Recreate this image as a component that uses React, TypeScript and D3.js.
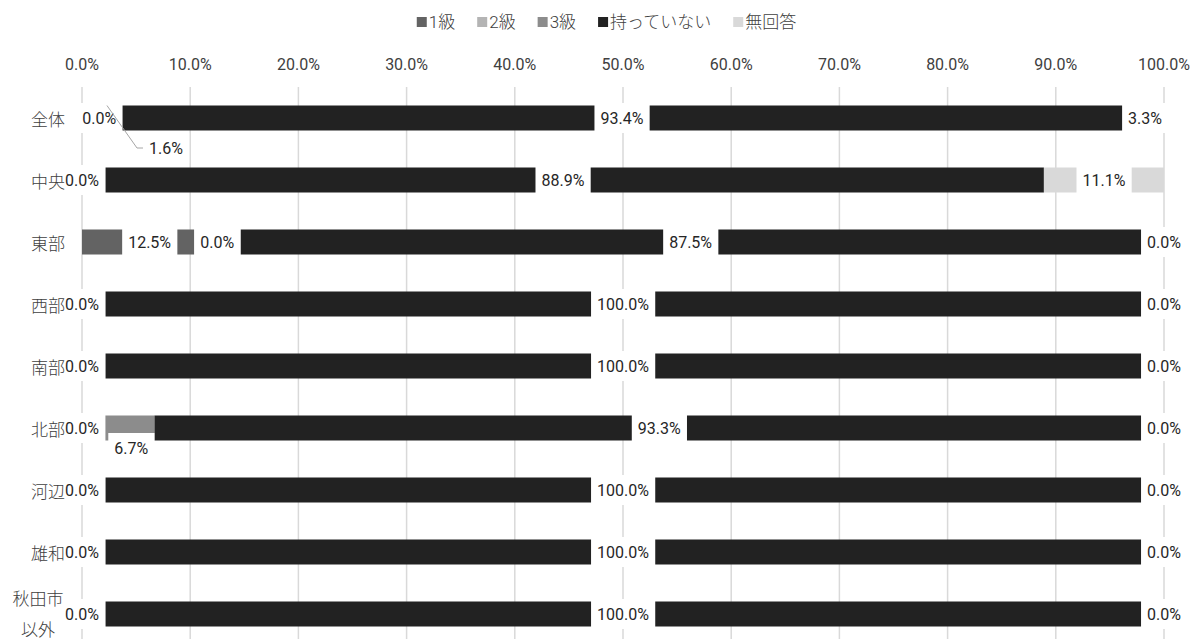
import React, { useEffect, useRef } from 'react';
import * as d3 from 'd3';

const categories = ['全体', '中央', '東部', '西部', '南部', '北部', '河辺', '雄和', '秋田市以外'];
const seriesNames = ['1級', '2級', '3級', '持っていない', '無回答'];
const grade1 = [1.6, 0, 12.5, 0, 0, 0, 0, 0, 0];
const grade2 = [0, 0, 0, 0, 0, 0, 0, 0, 0];
const grade3 = [1.6, 0, 0, 0, 0, 6.7, 0, 0, 0];
const notHeld = [93.4, 88.9, 87.5, 100, 100, 93.3, 100, 100, 100];
const noAnswer = [3.3, 11.1, 0, 0, 0, 0, 0, 0, 0];
const tickValues = [0, 10, 20, 30, 40, 50, 60, 70, 80, 90, 100];
const colors = ['#636363', '#b4b4b4', '#8c8c8c', '#222222', '#d9d9d9'];

// label placement overrides (layout, not data)
const labelMoves = [
  { row: '全体', series: 0, dx: 0, dy: 0, leader: false, hidden: true },
  { row: '全体', series: 2, dx: 58, dy: 30, leader: true, hidden: false },
  { row: '北部', series: 2, dx: 13, dy: 20, leader: false, hidden: false },
];

const W = 1195;
const H = 639;
const NUM_FONT = "Roboto, 'Noto Sans CJK JP', sans-serif";
const JP_FONT = "'Noto Sans CJK JP', sans-serif";
const TEXT = '#404040';

export default function App() {
  const ref = useRef<SVGSVGElement>(null);

  useEffect(() => {
    const svg = d3.select(ref.current);
    svg.selectAll('*').remove();

    const seriesData = [grade1, grade2, grade3, notHeld, noAnswer];
    const x = d3.scaleLinear().domain([0, 100]).range([82, 1164]);
    const y = d3.scaleBand<string>().domain(categories).range([87, 645]).padding(0);
    const barH = 25;
    const barY = (c: string) => (y(c) as number) + (y.bandwidth() - barH) / 2;

    // gridlines
    svg.append('g').selectAll('line').data(tickValues).join('line')
      .attr('x1', d => x(d)).attr('x2', d => x(d))
      .attr('y1', 87).attr('y2', H)
      .attr('stroke', '#d9d9d9').attr('stroke-width', 1.5);

    // axis labels (top)
    svg.append('g').selectAll('text').data(tickValues).join('text')
      .attr('x', d => x(d)).attr('y', 64)
      .attr('text-anchor', 'middle').attr('dominant-baseline', 'central')
      .style('font-family', NUM_FONT).style('font-size', '16px').attr('fill', TEXT)
      .text(d => d.toFixed(1) + '%');

    // stack
    const rows = categories.map((c, i) => {
      let acc = 0;
      return seriesData.map((s, k) => {
        const v = s[i];
        const seg = { cat: c, k, v, x0: acc, x1: acc + v };
        acc += v;
        return seg;
      });
    });

    // bars
    const gBars = svg.append('g');
    for (let k = 0; k < seriesNames.length; k++) {
      gBars.append('g').selectAll('rect').data(rows.map(r => r[k]).filter(d => d.v > 0)).join('rect')
        .attr('x', d => x(d.x0)).attr('width', d => x(d.x1) - x(d.x0))
        .attr('y', d => barY(d.cat)).attr('height', barH)
        .attr('fill', colors[k]);
    }

    // labels, drawn series by series
    const gLabels = svg.append('g');
    for (let k = 0; k < seriesNames.length; k++) {
      rows.forEach(r => {
        const d = r[k];
        const mv = labelMoves.find(m => m.row === d.cat && m.series === k);
        if (mv && mv.hidden) return;
        const cx = x((d.x0 + d.x1) / 2) + (mv ? mv.dx : 0);
        const cy = barY(d.cat) + barH / 2 + (mv ? mv.dy : 0);
        const g = gLabels.append('g');
        const rect = g.append('rect').attr('fill', '#ffffff');
        const t = g.append('text')
          .attr('x', cx).attr('y', cy)
          .attr('text-anchor', 'middle').attr('dominant-baseline', 'central')
          .style('font-family', NUM_FONT).style('font-size', '16px').attr('fill', '#262626')
          .text(d.v.toFixed(1) + '%');
        const bb = (t.node() as SVGTextElement).getBBox();
        const padX = 6;
        const bh = 30;
        rect.attr('x', bb.x - padX).attr('width', bb.width + padX * 2)
          .attr('y', cy - bh / 2).attr('height', bh);
        if (mv && mv.leader) {
          const sx = x((d.x0 + d.x1) / 2) - 1;
          const sy = barY(d.cat);
          const bl = bb.x - padX;
          g.insert('path', 'rect')
            .attr('d', `M${sx},${sy} L${bl - 6},${cy} L${bl},${cy}`)
            .attr('fill', 'none').attr('stroke', '#a6a6a6').attr('stroke-width', 1);
        }
      });
    }

    // category labels
    const gCat = svg.append('g');
    categories.forEach(c => {
      const cy = barY(c) + barH / 2;
      if (c.length > 4) {
        const lines = [c.slice(0, 3), c.slice(3)];
        lines.forEach((ln, i) => {
          gCat.append('text').attr('x', 38).attr('y', cy - 17 + i * 31)
            .attr('text-anchor', 'middle').attr('dominant-baseline', 'central')
            .style('font-family', JP_FONT).style('font-size', '17px').style('font-weight', 300)
            .attr('fill', TEXT)
            .text(ln);
        });
      } else {
        gCat.append('text').attr('x', 65).attr('y', cy)
          .attr('text-anchor', 'end').attr('dominant-baseline', 'central')
          .style('font-family', JP_FONT).style('font-size', '17px').style('font-weight', 300)
          .attr('fill', TEXT)
          .text(c);
      }
    });

    // legend
    const gLeg = svg.append('g');
    let lx = 0;
    seriesNames.forEach((n, k) => {
      const g = gLeg.append('g');
      g.append('rect').attr('x', lx).attr('y', 22 - 5).attr('width', 10).attr('height', 10).attr('fill', colors[k]);
      const t = g.append('text').attr('x', lx + 12).attr('y', 22)
        .attr('dominant-baseline', 'central')
        .style('font-family', NUM_FONT).style('font-size', '17px').style('font-weight', 300)
        .attr('fill', TEXT)
        .text(n);
      const w = (t.node() as SVGTextElement).getComputedTextLength();
      lx += 12 + w + 22;
    });
    const totalW = lx - 22;
    gLeg.attr('transform', `translate(${(W - totalW) / 2 + 9},0)`);
  }, []);

  return (
    <svg ref={ref} width={W} height={H}
      style={{ position: 'absolute', left: 0, top: 0, background: '#ffffff' }} />
  );
}
